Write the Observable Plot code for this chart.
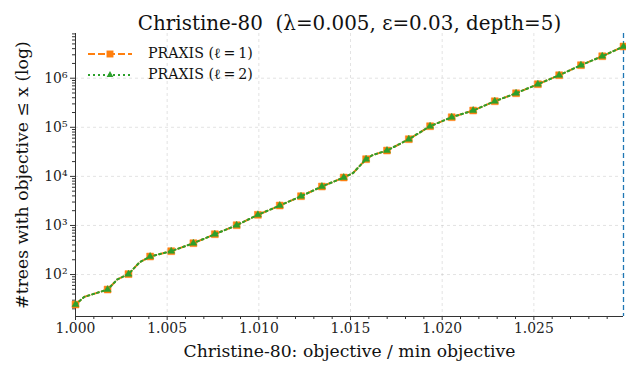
<!DOCTYPE html>
<html><head><meta charset="utf-8">
<script src="https://cdn.jsdelivr.net/npm/d3@7"></script>
<script src="https://cdn.jsdelivr.net/npm/@observablehq/plot@0.6"></script>
<style>
body{margin:0;background:#fff;}
#wrap{position:relative;width:626px;height:370px;font-family:"DejaVu Serif",serif;}
#legend{position:absolute;left:86px;top:43px;font-size:14.2px;color:#111;}
.item{display:flex;align-items:center;height:21px;}
.item svg{margin-right:15px;}
</style></head><body><div id="wrap"><div id="legend"></div></div>
<script>
// x: objective / min objective ; y: # trees with objective <= x
const ratio = [1.00000, 1.00047, 1.00175, 1.00229, 1.00289, 1.00350, 1.00407, 1.00522, 1.00643, 1.00760,
  1.00879, 1.00995, 1.01114, 1.01230, 1.01344, 1.01463, 1.01514, 1.01585, 1.01621, 1.01699,
  1.01818, 1.01934, 1.02052, 1.02169, 1.02287, 1.02403, 1.02522, 1.02638, 1.02757, 1.02873, 1.02989];
const treesL1 = [24.5, 35, 49.5, 80, 102, 178, 233, 299, 435, 663,
  1012, 1648, 2548, 3944, 6215, 9480, 11700, 22400, 27200, 33600,
  57200, 105200, 160400, 219800, 339700, 494000, 755000, 1151000, 1841000, 2806000, 4427000];
const treesL2 = [24.5, 35, 49.5, 80, 102, 178, 233, 299, 435, 663,
  1012, 1648, 2548, 3944, 6215, 9480, 11700, 22400, 27200, 33600,
  57200, 105200, 160400, 219800, 339700, 494000, 755000, 1151000, 1841000, 2806000, 4427000];
const markerIdx = [0, 2, 4, 6, 7, 8, 9, 10, 11, 12, 13, 14, 15, 17, 19, 20, 21, 22, 23, 24, 25, 26, 27, 28, 29, 30];
const seriesNames = ["PRAXIS (ℓ\u2009=\u20091)", "PRAXIS (ℓ\u2009=\u20092)"];
const xTicks = [1.000, 1.005, 1.010, 1.015, 1.020, 1.025];
const yTicks = [1e2, 1e3, 1e4, 1e5, 1e6];
const title = "Christine-80  (λ=0.005, ε=0.03, depth=5)";
const xLabel = "Christine-80: objective / min objective";
const yLabel = "#trees with objective ≤ x (log)";
const yDomain = [13.96, 8.15e6];

const FONT = '"DejaVu Serif", serif';
const C1 = "#ff7f0e", C2 = "#2ca02c", CB = "#1f77b4";
const xMax = d3.max(ratio);
const rows1 = ratio.map((x, i) => ({x, y: treesL1[i]}));
const rows2 = ratio.map((x, i) => ({x, y: treesL2[i]}));
const mk1 = markerIdx.map(i => rows1[i]);
const mk2 = markerIdx.map(i => rows2[i]);

const xMinor = d3.range(0, 30).map(i => +(1 + i * 0.001).toFixed(3)).filter(v => !xTicks.includes(v) && v <= xMax);
const yMinor = [];
for (let e = 1; e <= 6; e++) for (let m = 2; m <= 9; m++) { const v = m * 10 ** e; if (v >= yDomain[0] && v <= yDomain[1]) yMinor.push(v); }
const sup = {"0":"⁰","1":"¹","2":"²","3":"³","4":"⁴","5":"⁵","6":"⁶","7":"⁷","8":"⁸","9":"⁹"};
const fmtY = d => "10" + String(Math.round(Math.log10(d))).split("").map(c => sup[c]).join("");

const gridStyle = {stroke: "#b0b0b0", strokeOpacity: 0.45, strokeDasharray: "3,3", strokeWidth: 0.8};

const chart = Plot.plot({
  width: 626, height: 370,
  marginLeft: 75, marginRight: 3, marginTop: 33, marginBottom: 54,
  style: {fontFamily: FONT, fontSize: "13.9px", color: "#222", background: "white"},
  x: {domain: [1.0, xMax]},
  y: {type: "log", domain: yDomain},
  marks: [
    Plot.gridX(xTicks.slice(1), gridStyle),
    Plot.gridY(yTicks, gridStyle),
    Plot.axisX({ticks: xTicks, tickFormat: d3.format(".3f"), tickSize: 4, tickPadding: 3, label: null, stroke: "#333"}),
    Plot.axisX({ticks: xMinor, tickFormat: () => "", tickSize: 3, label: null, stroke: "#333"}),
    Plot.axisY({ticks: yTicks, tickFormat: fmtY, tickSize: 5, tickPadding: 3, label: null, stroke: "#333"}),
    Plot.axisY({ticks: yMinor, tickFormat: () => "", tickSize: 3, label: null, stroke: "#333"}),
    Plot.ruleX([1.0], {stroke: "#333", strokeWidth: 1}),
    Plot.ruleY([yDomain[0]], {stroke: "#333", strokeWidth: 1}),
    Plot.ruleX([xMax], {stroke: CB, strokeWidth: 1.3, strokeDasharray: "5,3"}),
    Plot.line(rows1, {x: "x", y: "y", stroke: C1, strokeWidth: 2, strokeDasharray: "7,3"}),
    Plot.dot(mk1, {x: "x", y: "y", symbol: "square", r: 3.9, fill: C1, stroke: C1, strokeWidth: 0.5}),
    Plot.line(rows2, {x: "x", y: "y", stroke: C2, strokeWidth: 2, strokeDasharray: "2,3"}),
    Plot.dot(mk2, {x: "x", y: "y", symbol: "triangle", r: 2.6, fill: C2, stroke: C2, strokeWidth: 0.5}),
    Plot.text([title], {frameAnchor: "top", dy: -18, fontSize: 19.9, fill: "#111", fontFamily: FONT}),
    Plot.text([xLabel], {frameAnchor: "bottom", dy: 40, fontSize: 17.2, fill: "#111", fontFamily: FONT}),
    Plot.text([yLabel], {frameAnchor: "left", textAnchor: "middle", dx: -53, rotate: -90, fontSize: 17.2, fill: "#111", fontFamily: FONT})
  ]
});
document.getElementById("wrap").prepend(chart);

const legend = document.getElementById("legend");
const items = [
  {name: seriesNames[0], color: C1, dash: "7,3", sym: "square"},
  {name: seriesNames[1], color: C2, dash: "2,3", sym: "triangle"}
];
for (const it of items) {
  const row = document.createElement("div");
  row.className = "item";
  const s = d3.create("svg").attr("width", 47).attr("height", 14);
  s.append("line").attr("x1", 2).attr("x2", 46).attr("y1", 7).attr("y2", 7)
    .attr("stroke", it.color).attr("stroke-width", 2).attr("stroke-dasharray", it.dash);
  const sym = it.sym === "square" ? d3.symbolSquare : d3.symbolTriangle;
  const size = it.sym === "square" ? 48 : 20;
  s.append("path").attr("d", d3.symbol(sym, size)()).attr("transform", "translate(24,7)").attr("fill", it.color);
  row.appendChild(s.node());
  const t = document.createElement("span");
  t.textContent = it.name;
  row.appendChild(t);
  legend.appendChild(row);
}
</script>
</body></html>
